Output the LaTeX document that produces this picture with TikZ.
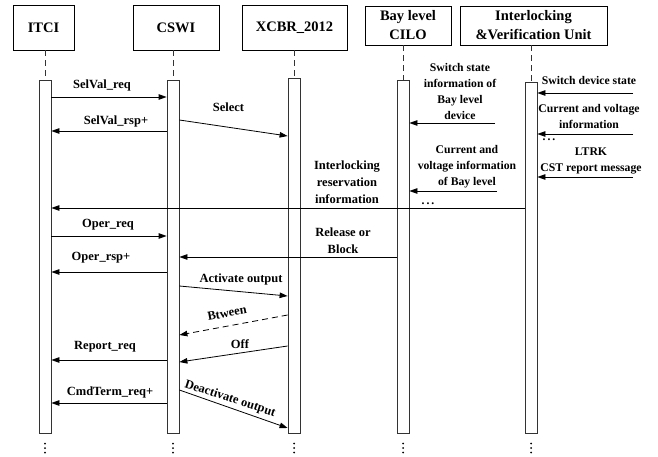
\documentclass[tikz,border=0pt]{standalone}
\usepackage{fontspec}
\setmainfont{Liberation Serif}
\usetikzlibrary{arrows.meta}
\begin{document}
\begin{tikzpicture}[x=1pt,y=-1pt,
  actor/.style={draw, line width=0.8pt, font=\fontsize{14.5}{19}\selectfont\bfseries, align=center, inner sep=0pt},
  bar/.style={draw=black!80, line width=0.8pt, fill=white, minimum width=12pt, inner sep=0pt},
  life/.style={draw=black!80, line width=0.8pt, dash pattern=on 6pt off 4pt},
  msg/.style={draw, line width=0.8pt, -{Triangle[length=8pt,width=5.5pt]}},
  lbl/.style={font=\fontsize{12.5}{17}\selectfont\bfseries, align=center, inner sep=0pt},
  rlbl/.style={font=\fontsize{11.7}{16}\selectfont\bfseries, align=center, inner sep=0pt},
  dot/.style={fill=black, circle, inner sep=0pt, minimum size=2pt},
]
\useasboundingbox (0,0) rectangle (658,457);

% participants
\node[actor, minimum width=61pt, minimum height=45pt] (h1) at (43.5,27.5) {ITCI};
\node[actor, minimum width=86pt, minimum height=45pt] (h2) at (176,27.5) {CSWI};
\node[actor, minimum width=105pt, minimum height=45pt] (h3) at (294.5,27.5) {XCBR\_2012};
\node[actor, minimum width=86pt, minimum height=39pt] (h4) at (408,25.5) {Bay level\\CILO};
\node[actor, minimum width=147pt, minimum height=39pt] (h5) at (533.5,25.5) {Interlocking\\\&Verification Unit};

% activation bars
\node[bar, minimum height=353pt] (b1) at (45,256.5) {};
\node[bar, minimum height=353pt] (b2) at (173,256.5) {};
\node[bar, minimum height=355pt] (b3) at (294,255.5) {};
\node[bar, minimum height=353pt] (b4) at (403,256.5) {};
\node[bar, minimum height=351pt] (b5) at (531,257.5) {};

% lifelines
\foreach \i in {1,...,5}
  \draw[life] (h\i.south -| b\i.north) -- (b\i.north);

% continuation marks below each bar
\foreach \i in {1,...,5}
  \foreach \yy in {443.5,448,452.5}
    \node[dot] at (b\i.south |- 0,\yy) {};

% ITCI / CSWI / XCBR exchange
\draw[msg] (b1.east |- 0,97) -- (b2.west |- 0,97);
\node[lbl] (t1) at (102,85) {SelVal\_req};
\draw[msg] (b2.west |- 0,131) -- (b1.east |- 0,131);
\node[lbl] (t2) at (116,121) {SelVal\_rsp+};
\draw[msg] (b2.east |- 0,120) -- (b3.west |- 0,136);
\node[lbl] (t3) at (228.5,107) {Select};

\draw[msg] (b5.west |- 0,208) -- (b1.east |- 0,208);
\node[lbl] (t4) at (347,182) {Interlocking\\reservation\\information};

\draw[msg] (b1.east |- 0,236) -- (b2.west |- 0,236);
\node[lbl] (t5) at (108,225) {Oper\_req};
\draw[msg] (b4.west |- 0,257) -- (b2.east |- 0,257);
\node[lbl] (t6) at (343,241) {Release or\\Block};
\draw[msg] (b2.west |- 0,272) -- (b1.east |- 0,272);
\node[lbl] (t7) at (101,258) {Oper\_rsp+};

\draw[msg] (b2.east |- 0,286) -- (b3.west |- 0,296);
\node[lbl] (t8) at (241,279) {Activate output};
\draw[msg, dash pattern=on 6pt off 4pt] (b3.west |- 0,315) -- (b2.east |- 0,335);
\node[lbl, rotate=10.4] (t9) at (227,313) {Btween};
\draw[msg] (b3.west |- 0,346) -- (b2.east |- 0,362);
\node[lbl] (t10) at (240,344) {Off};
\draw[msg] (b2.west |- 0,360) -- (b1.east |- 0,360);
\node[lbl] (t11) at (105,347) {Report\_req};
\draw[msg] (b2.west |- 0,403) -- (b1.east |- 0,403);
\node[lbl] (t12) at (110,392) {CmdTerm\_req+};
\draw[msg] (b2.east |- 0,390) -- (b3.west |- 0,428);
\node[lbl, rotate=-18] (t13) at (230,399) {Deactivate output};

% inputs to Bay level CILO
\coordinate (s1) at (495,123);
\draw[msg] (s1) -- (b4.east |- s1);
\node[rlbl] (t14) at (460,91) {Switch state\\information of\\Bay level\\device};
\coordinate (s2) at (497,191);
\draw[msg] (s2) -- (b4.east |- s2);
\node[rlbl] (t15) at (467,167) {Current and\\voltage information\\of Bay level};
\node[rlbl] (d1) at (428,204) {.\,.\,.};

% inputs to the verification unit
\coordinate (s3) at (633,93);
\draw[msg] (s3) -- (b5.east |- s3);
\node[rlbl] (t16) at (589,80) {Switch device state};
\coordinate (s4) at (633,134);
\draw[msg] (s4) -- (b5.east |- s4);
\node[rlbl] (t17) at (589,116.5) {Current and voltage\\information};
\node[rlbl] (d2) at (549,140) {.\,.\,.};
\coordinate (s5) at (633,177);
\draw[msg] (s5) -- (b5.east |- s5);
\node[rlbl] (t18) at (591,160.5) {LTRK\\CST report message};
\end{tikzpicture}
\end{document}
